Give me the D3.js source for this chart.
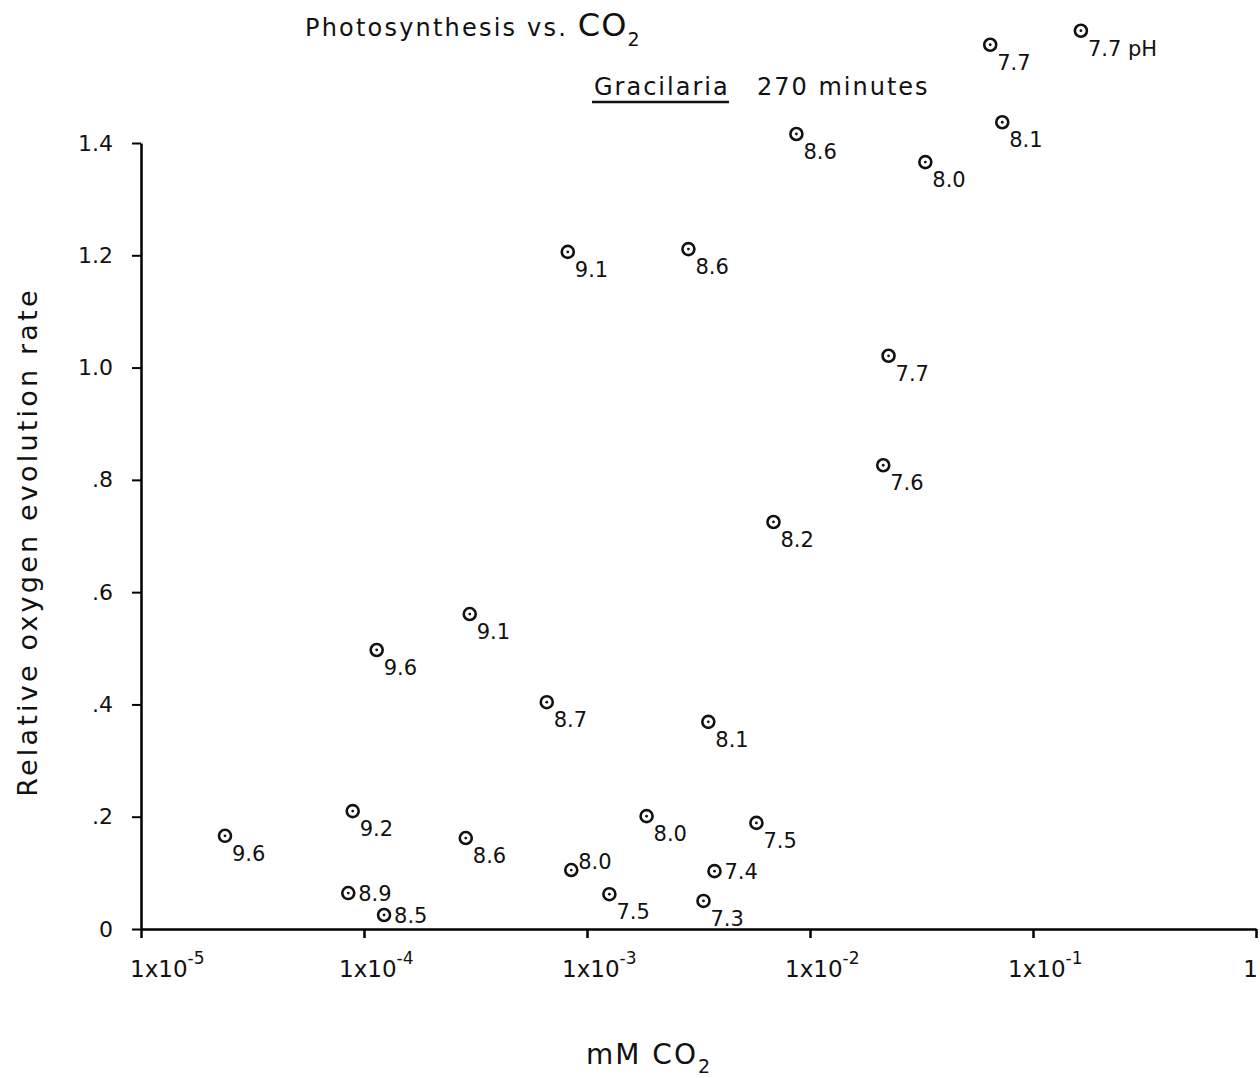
<!DOCTYPE html>
<html>
<head>
<meta charset="utf-8">
<script src="https://cdn.jsdelivr.net/npm/d3@7"></script>
<style>
  body { margin: 0; background: #fff; }
  svg { font-family: "DejaVu Sans", sans-serif; }
</style>
</head>
<body>
<div id="chart"></div>
<script>
// mM CO2 (log scale) and relative O2 evolution rate, with pH of each run
const co2 = [2.38e-5, 8.9e-5, 8.5e-5, 1.23e-4, 1.14e-4, 2.98e-4, 2.86e-4, 6.6e-4, 8.2e-4, 8.5e-4,
             1.26e-3, 1.85e-3, 2.85e-3, 3.5e-3, 3.33e-3, 3.73e-3, 5.75e-3, 6.86e-3, 8.69e-3, 2.13e-2,
             2.25e-2, 3.29e-2, 6.43e-2, 7.28e-2, 0.164];
const rate = [0.166, 0.21, 0.064, 0.025, 0.497, 0.561, 0.162, 0.404, 1.206, 0.105,
              0.062, 0.201, 1.211, 0.369, 0.050, 0.103, 0.189, 0.725, 1.416, 0.826,
              1.021, 1.366, 1.575, 1.437, 1.600];
const ph = ["9.6", "9.2", "8.9", "8.5", "9.6", "9.1", "8.6", "8.7", "9.1", "8.0",
            "7.5", "8.0", "8.6", "8.1", "7.3", "7.4", "7.5", "8.2", "8.6", "7.6",
            "7.7", "8.0", "7.7", "8.1", "7.7 pH"];
// where the pH label sits relative to its point
const labelSide = ["below", "below", "right", "right", "below", "below", "below", "below", "below", "above",
                   "below", "below", "below", "below", "below", "right", "below", "below", "below", "below",
                   "below", "below", "below", "below", "below"];

const xTicks = [1e-5, 1e-4, 1e-3, 1e-2, 1e-1, 1];
const xExp = ["-5", "-4", "-3", "-2", "-1", ""];
const yTicks = [0, 0.2, 0.4, 0.6, 0.8, 1.0, 1.2, 1.4];
const yTickLabels = ["0", ".2", ".4", ".6", ".8", "1.0", "1.2", "1.4"];

const data = co2.map((c, i) => ({ x: c, y: rate[i], ph: ph[i], side: labelSide[i] }));

const width = 1260, height = 1078;
const margin = { left: 141, right: 4, top: 143, bottom: 149 };

const x = d3.scaleLog()
    .domain([1e-5, 1])
    .range([margin.left, width - margin.right]);

const y = d3.scaleLinear()
    .domain([0, 1.4])
    .range([height - margin.bottom, margin.top]);

const svg = d3.select("#chart").append("svg")
    .attr("width", width)
    .attr("height", height)
    .attr("viewBox", [0, 0, width, height]);

// x axis
const xAxis = svg.append("g")
    .attr("transform", `translate(0,${y(0)})`)
    .call(d3.axisBottom(x).tickValues(xTicks).tickSize(9).tickSizeOuter(0).tickFormat(() => ""));
xAxis.select(".domain").attr("stroke-width", 2.5);
xAxis.selectAll(".tick line").attr("stroke-width", 2.5);
xAxis.selectAll(".tick text").remove();

// tick labels drawn by hand so the exponent can be raised
const xLab = svg.append("g")
    .selectAll("text")
    .data(xTicks)
    .join("text")
    .attr("x", (d, i) => xExp[i] ? Math.max(x(d) - 25, margin.left - 11) : x(d) + 2)
    .attr("y", y(0) + 48)
    .attr("text-anchor", (d, i) => xExp[i] ? "start" : "end")
    .attr("font-size", 23)
    .attr("fill", "#111");
xLab.append("tspan").text((d, i) => xExp[i] ? "1x10" : "1");
xLab.append("tspan")
    .attr("dy", -13)
    .attr("font-size", 17)
    .text((d, i) => xExp[i]);

// y axis
const yAxis = svg.append("g")
    .attr("transform", `translate(${margin.left},0)`)
    .call(d3.axisLeft(y).tickValues(yTicks).tickSize(9).tickSizeOuter(0)
        .tickFormat((d, i) => yTickLabels[i]));
yAxis.select(".domain").attr("stroke-width", 2.5);
yAxis.selectAll(".tick line").attr("stroke-width", 2);
yAxis.selectAll(".tick text")
    .attr("x", -28)
    .attr("font-size", 22)
    .attr("font-family", "DejaVu Sans, sans-serif")
    .attr("fill", "#111");

// points
const pts = svg.append("g")
    .selectAll("g")
    .data(data)
    .join("g")
    .attr("transform", d => `translate(${x(d.x)},${y(d.y)})`);

pts.append("circle")
    .attr("r", 6)
    .attr("fill", "#fff")
    .attr("stroke", "#111")
    .attr("stroke-width", 2.6);
pts.append("circle")
    .attr("r", 1.4)
    .attr("fill", "#111");

pts.append("text")
    .attr("font-size", 21)
    .attr("fill", "#111")
    .attr("x", d => d.side === "right" ? 10 : 7)
    .attr("y", d => d.side === "right" ? 8 : d.side === "above" ? -1 : 25)
    .text(d => d.ph);

// titles
const title = svg.append("text")
    .attr("x", 305)
    .attr("y", 36)
    .attr("font-size", 24)
    .attr("letter-spacing", 2.2)
    .attr("fill", "#111");
title.append("tspan").text("Photosynthesis vs. ");
title.append("tspan").attr("font-size", 32).attr("letter-spacing", 1).text("CO");
title.append("tspan").attr("font-size", 19).attr("dy", 10).text("2");

svg.append("text")
    .attr("x", 594)
    .attr("y", 95)
    .attr("font-size", 24)
    .attr("letter-spacing", 2)
    .attr("fill", "#111")
    .text("Gracilaria");
svg.append("line")
    .attr("x1", 592).attr("x2", 729)
    .attr("y1", 102).attr("y2", 102)
    .attr("stroke", "#111")
    .attr("stroke-width", 2.5);
svg.append("text")
    .attr("x", 757)
    .attr("y", 95)
    .attr("font-size", 24)
    .attr("letter-spacing", 2)
    .attr("fill", "#111")
    .text("270 minutes");

// axis labels
svg.append("text")
    .attr("transform", `translate(37,${(y(0) + y(1.4)) / 2 + 6}) rotate(-90)`)
    .attr("text-anchor", "middle")
    .attr("font-size", 27)
    .attr("letter-spacing", 3.2)
    .attr("fill", "#111")
    .text("Relative oxygen evolution rate");

const xTitle = svg.append("text")
    .attr("x", 586)
    .attr("y", 1064)
    .attr("font-size", 28)
    .attr("letter-spacing", 2)
    .attr("fill", "#111");
xTitle.append("tspan").text("mM CO");
xTitle.append("tspan").attr("font-size", 19).attr("dy", 9).text("2");
</script>
</body>
</html>
